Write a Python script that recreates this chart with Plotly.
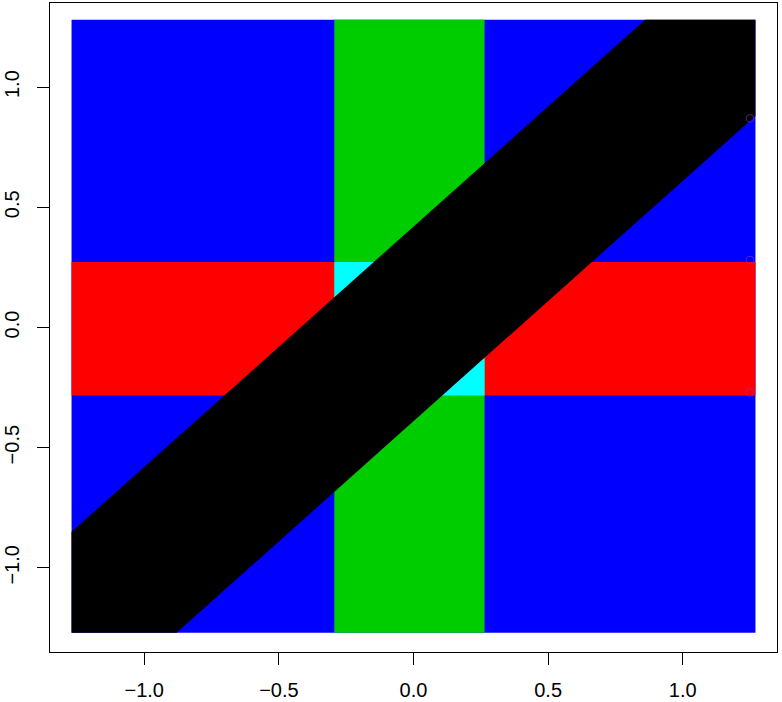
import plotly.graph_objects as go

# Region outlines (visible edges of the classified point cloud)
blue_x = [-1.27, 1.27, 1.27, -1.27]
blue_y = [-1.27, -1.27, 1.28, 1.28]

red_x = [-1.27, 1.27, 1.27, -1.27]
red_y = [-0.283, -0.283, 0.273, 0.273]

green_x = [-0.294, 0.264, 0.264, -0.294]
green_y = [-1.27, -1.27, 1.28, 1.28]

cyan_x = [-0.294, 0.264, 0.264, -0.294]
cyan_y = [-0.283, -0.283, 0.273, 0.273]

black_x = [-1.27, -0.88, 1.27, 1.27, 0.86, -1.27]
black_y = [-1.27, -1.27, 0.88, 1.28, 1.28, -0.85]

odd_x = [1.25, 1.25, 1.25]
odd_y = [0.87, 0.28, -0.27]

tick_vals = [-1.0, -0.5, 0.0, 0.5, 1.0]
tick_text = ["\u22121.0", "\u22120.5", "0.0", "0.5", "1.0"]

regions = [
    (blue_x, blue_y, "#0000FF"),
    (red_x, red_y, "#FF0000"),
    (green_x, green_y, "#00CD00"),
    (cyan_x, cyan_y, "#00FFFF"),
    (black_x, black_y, "#000000"),
]

fig = go.Figure()
for xs, ys, col in regions:
    fig.add_trace(go.Scatter(
        x=xs, y=ys, mode="none", fill="toself",
        fillcolor=col, hoverinfo="skip", showlegend=False))

fig.add_trace(go.Scatter(
    x=odd_x, y=odd_y, mode="markers",
    marker=dict(symbol="circle-open", size=8, color="#9030B0", opacity=0.6,
                line=dict(width=1)),
    showlegend=False, hoverinfo="skip"))

axis_common = dict(
    range=[-1.35, 1.35], showgrid=False, zeroline=False, automargin=False,
    showline=True, mirror=True, linecolor="black", linewidth=1,
    ticks="outside", ticklen=12, tickcolor="black", tickwidth=1,
    tickvals=tick_vals, ticktext=tick_text,
    tickfont=dict(family="Liberation Sans, Arial", size=20, color="black"),
)

fig.update_layout(
    width=782, height=702,
    margin=dict(l=50, r=5, t=3, b=50),
    plot_bgcolor="white", paper_bgcolor="white",
    xaxis=dict(**axis_common, ticklabelstandoff=8),
    yaxis=dict(**axis_common, tickangle=-90, ticklabelstandoff=10),
)

fig.write_html("out.html", config={"displayModeBar": False},
               post_script="document.body.style.margin='0';document.body.style.overflow='hidden';")
